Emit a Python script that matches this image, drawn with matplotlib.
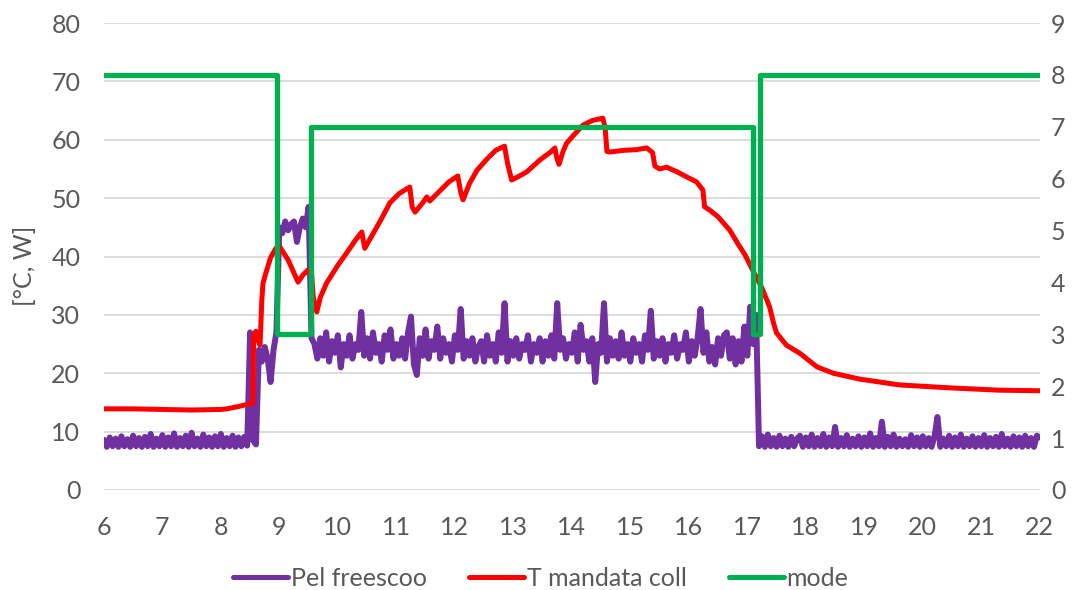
import numpy as np
import matplotlib.pyplot as plt

plt.rcParams['font.family'] = ['Lato', 'DejaVu Sans']

# T mandata coll [°C] (ore, valore)
t_red = [6.0, 6.5, 7.0, 7.5, 8.0, 8.1, 8.3, 8.55, 8.56, 8.6, 8.64, 8.67, 8.70, 8.72, 8.77, 8.85, 8.94,
         9.01, 9.15, 9.32, 9.40, 9.49, 9.55, 9.58, 9.64, 9.70, 9.81, 10.0, 10.15, 10.30, 10.41, 10.46,
         10.55, 10.72, 10.89, 11.05, 11.23, 11.27, 11.32, 11.45, 11.52, 11.57, 11.75, 11.9, 12.05, 12.10,
         12.14, 12.25, 12.38, 12.55, 12.70, 12.85, 12.90, 12.97, 13.05, 13.23, 13.45, 13.65, 13.71, 13.74,
         13.78, 13.85, 13.91, 14.05, 14.19, 14.35, 14.53, 14.57, 14.60, 14.65, 14.9, 15.1, 15.28, 15.38,
         15.42, 15.5, 15.62, 15.8, 15.95, 16.13, 16.24, 16.27, 16.35, 16.5, 16.7, 16.85, 16.96, 17.1,
         17.25, 17.38, 17.45, 17.5, 17.67, 17.9, 18.19, 18.47, 18.92, 19.6, 20.46, 21.3, 22.0]
v_red = [13.9, 13.9, 13.8, 13.7, 13.8, 13.9, 14.3, 14.9, 26.5, 27.2, 25.5, 24.8, 32.5, 35.4, 37.2, 39.8, 41.4,
         41.6, 39.4, 35.6, 36.8, 37.7, 37.2, 33.0, 30.5, 33.0, 35.5, 38.5, 40.6, 42.8, 44.2, 41.4,
         43.0, 46.0, 49.2, 50.8, 51.9, 48.5, 47.6, 49.2, 50.2, 49.5, 51.3, 52.8, 53.8, 51.0,
         49.7, 52.5, 54.8, 56.7, 58.2, 58.9, 56.0, 53.1, 53.5, 54.5, 56.5, 58.0, 58.6, 57.0,
         55.8, 58.0, 59.4, 61.0, 62.5, 63.3, 63.7, 62.0, 58.0, 57.9, 58.2, 58.3, 58.6, 57.8,
         55.5, 55.0, 55.3, 54.5, 53.7, 52.8, 51.4, 48.5, 48.0, 46.8, 44.5, 42.0, 40.3, 37.5,
         34.6, 31.4, 28.5, 26.9, 24.8, 23.4, 21.1, 20.0, 19.0, 18.0, 17.5, 17.1, 17.0]

# Pel freescoo [W], un valore ogni 3 minuti dalle 6 alle 22
t_pel = np.linspace(6, 22, 321)
pel_notte = [8.6, 7.4, 9.0, 7.5, 8.8, 7.4, 9.2, 7.5, 8.7, 7.4,
             9.3, 7.5, 8.9, 7.4, 9.1, 7.5, 9.6, 7.4, 8.8, 7.5,
             9.4, 7.4, 9.0, 7.5, 9.7, 7.4, 8.9, 7.5, 9.3, 7.4,
             9.8, 7.5, 8.8, 7.4, 9.5, 7.5, 9.0, 7.4, 9.2, 7.5,
             9.6, 7.4, 8.9, 7.5, 9.3, 7.4, 9.0, 7.5, 9.1, 7.6]
pel_avvio = [27, 8.5, 7.8, 24, 22, 24.5, 22.5, 18.5, 24, 27,
             45, 44, 46, 44.5, 45.5, 46, 42.5, 45, 46.5, 45, 48.5, 26]
pel_giorno = [25, 22.5, 26, 23, 27, 22, 25.5, 23.5, 26.5, 21,
              25, 23, 26.5, 22.5, 25, 24, 30.5, 23, 26, 22.5,
              27, 23.5, 25, 22, 26.5, 24, 27.5, 22.5, 25, 23,
              26, 22.5, 27, 29.7, 21.5, 19.7, 26, 23, 27.5, 22.5,
              25.5, 24, 28, 22.5, 26, 23.5, 25, 22, 26.5, 24,
              31, 22.5, 25.5, 23, 26, 22, 24.5, 25.5, 22, 26.5,
              23, 25, 22, 27, 23.5, 32, 22, 25.5, 23, 26,
              22.5, 25, 24, 26.5, 22, 25, 23.5, 26, 22, 25.5,
              23, 26.5, 22.5, 32, 24, 26, 22.5, 25, 23.5, 27,
              22, 28.3, 24, 25.5, 22, 26, 18.5, 25, 23.5, 32,
              22, 26, 23, 25.5, 22.5, 27, 23, 25, 22, 26,
              23.5, 25, 22, 26.5, 24, 30.7, 22.5, 25.5, 23, 26,
              22, 25, 23.5, 26.5, 22.5, 25, 24, 27, 22, 25.5,
              23, 26, 31, 23.5, 27, 22, 24.5, 21.5, 26, 23,
              26.5, 27, 22.5, 26, 21.5, 25.5, 22, 28, 23, 31.4,
              25, 30]
pel_sera = [7.5, 9.2, 7.4, 9.5, 7.5, 8.9, 7.4, 9.3, 7.5, 8.8,
            7.4, 9.1, 7.5, 8.8, 9.3, 7.4, 9.0, 7.5, 9.5, 7.4,
            8.9, 7.5, 9.6, 7.4, 9.0, 7.5, 10.8, 7.4, 8.9, 7.5,
            9.4, 7.4, 8.8, 7.5, 9.2, 7.4, 9.0, 7.5, 9.7, 7.4,
            8.9, 7.5, 11.7, 7.4, 9.1, 7.5, 9.5, 7.4, 8.8, 7.5,
            8.7, 7.4, 9.4, 7.5, 9.0, 7.4, 9.2, 7.5, 8.9, 7.4,
            9.2, 12.5, 7.4, 8.8, 7.5, 9.3, 7.4, 9.0, 7.5, 9.5,
            7.4, 8.8, 7.5, 9.2, 7.4, 8.9, 7.5, 9.4, 7.4, 8.9,
            7.5, 9.1, 7.4, 9.6, 7.5, 8.8, 7.4, 9.2, 7.5, 9.0,
            7.4, 9.3, 7.5, 8.9, 7.4, 9.3, 9.0]
v_pel = pel_notte + pel_avvio + pel_giorno + pel_sera

# mode (asse destro), a gradini
t_mode = [6.0, 8.96, 9.54, 17.1, 17.22, 22.0]
v_mode = [8, 3, 7, 3, 8, 8]

grigio = '#595959'
fs = 18
fig = plt.figure(figsize=(10.82, 5.90), dpi=100)
ax = fig.add_axes([0.096, 0.1695, 0.865, 0.7915])
ax2 = ax.twinx()

l1, = ax.plot(t_pel, v_pel, color='#7030A0', lw=4.3, solid_joinstyle='round',
              solid_capstyle='round', label='Pel freescoo')
l2, = ax.plot(t_red, v_red, color='#FF0000', lw=3.6, solid_joinstyle='round',
              solid_capstyle='round', label='T mandata coll')
l3, = ax2.plot(t_mode, v_mode, color='#00B050', lw=3.8, drawstyle='steps-post',
               solid_capstyle='round', label='mode')

ax.set_xlim(6, 22)
ax.set_ylim(0, 80)
ax2.set_ylim(0, 9)
ax.set_xticks(range(6, 23))
ax.set_yticks(range(0, 81, 10))
ax2.set_yticks(range(0, 10))
ax.grid(axis='y', color='#D9D9D9', lw=1.3)
ax.set_axisbelow(True)
for a in (ax, ax2):
    for s in a.spines.values():
        s.set_visible(False)
ax.tick_params(axis='both', length=0, labelsize=fs, labelcolor=grigio)
ax.tick_params(axis='x', pad=19)
ax.tick_params(axis='y', pad=17)
ax2.tick_params(axis='y', length=0, labelsize=fs, labelcolor=grigio, pad=8)
fig.text(25 / 1082, 0.549, '[°C, W]', rotation=90, ha='center', va='center',
         fontsize=fs, color=grigio)

leg = fig.legend(handles=[l1, l2, l3], loc='center', bbox_to_anchor=(0.5, 12 / 590), ncol=3,
                 frameon=False, fontsize=fs, labelcolor=grigio, handlelength=2.2,
                 handletextpad=0.1, columnspacing=1.7)
for h in leg.get_lines():
    h.set_linewidth(3.6)

fig.savefig('out.png', dpi=100)
